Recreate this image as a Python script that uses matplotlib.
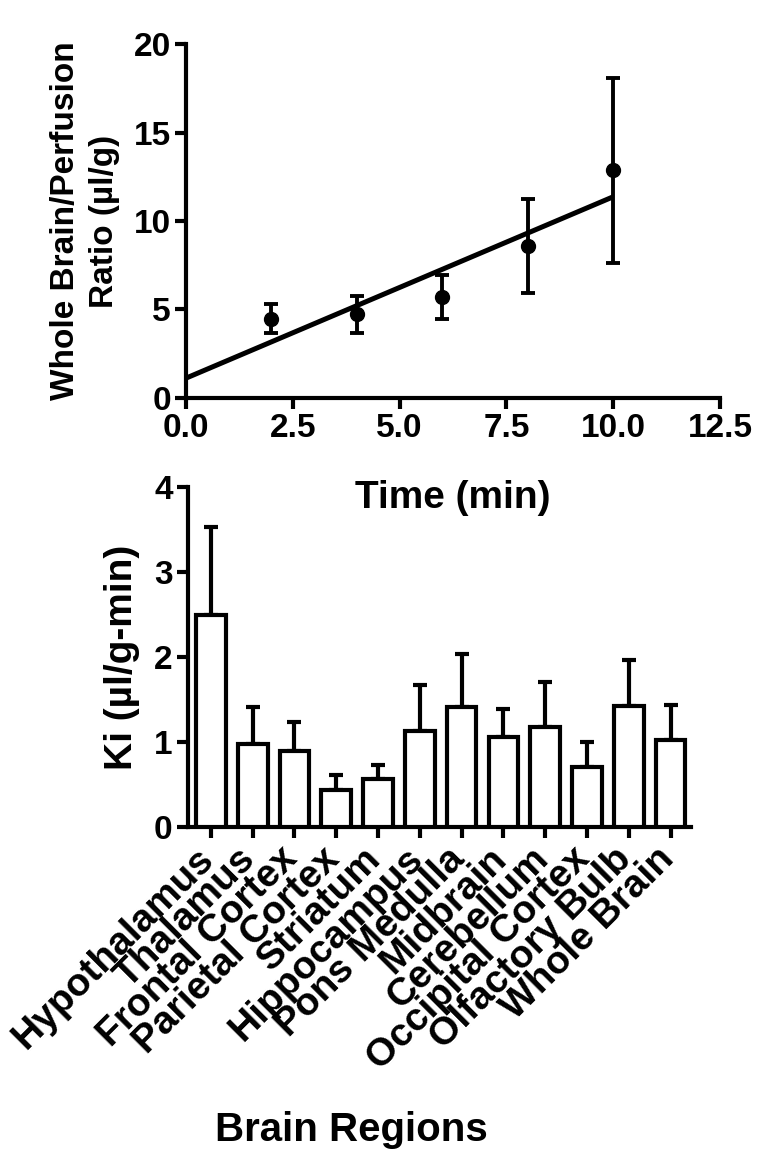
import numpy as np
import matplotlib
matplotlib.use("Agg")
import matplotlib.pyplot as plt
from matplotlib import rcParams as rcp
from matplotlib.transforms import ScaledTranslation, blended_transform_factory

rcp['font.family'] = ['Liberation Sans', 'DejaVu Sans']
rcp['font.weight'] = 'bold'
rcp['axes.linewidth'] = 3

# top panel: uptake over time
time_min = [2, 4, 6, 8, 10]
ratio_mean = [4.48, 4.74, 5.72, 8.59, 12.86]
ratio_err_lo = [0.81, 1.07, 1.24, 2.64, 5.22]
ratio_err_hi = [0.82, 1.04, 1.23, 2.65, 5.22]
fit_x = [0, 10]
fit_y = [1.11, 11.37]

# bottom panel: Ki per region
regions = ["Hypothalamus", "Thalamus", "Frontal Cortex", "Parietal Cortex",
           "Striatum", "Hippocampus", "Pons Medulla", "Midbrain", "Cerebellum",
           "Occipital Cortex", "Olfactory Bulb", "Whole Brain"]
ki_mean = [2.50, 0.98, 0.89, 0.43, 0.56, 1.13, 1.41, 1.06, 1.18, 0.71, 1.42, 1.02]
ki_err = [1.03, 0.43, 0.35, 0.18, 0.17, 0.54, 0.63, 0.33, 0.53, 0.29, 0.55, 0.42]

fig = plt.figure(figsize=(7.64, 11.63), dpi=100)

ax1 = fig.add_axes([0.2435, 0.658, 0.699, 0.304])
ax1.plot(fit_x, fit_y, 'k-', lw=3.6, solid_capstyle='butt')
ax1.errorbar(time_min, ratio_mean, yerr=[ratio_err_lo, ratio_err_hi], fmt='o',
             color='k', ms=10, elinewidth=2.8, capsize=5, capthick=2.8)
ax1.set_xlim(0, 12.5)
ax1.set_ylim(0, 20)
ax1.set_xticks(np.arange(0, 12.6, 2.5))
ax1.set_xticklabels(["%.1f" % v for v in np.arange(0, 12.6, 2.5)])
ax1.set_yticks([0, 5, 10, 15, 20])
ax1.spines[['top', 'right']].set_visible(False)
ax1.tick_params(direction='out', length=8, width=3, labelsize=24, pad=3)
ax1.set_xlabel("Time (min)", fontsize=28, fontweight='bold', labelpad=26)
ax1.set_ylabel("Whole Brain/Perfusion\nRatio (\u00b5l/g)", fontsize=24,
               fontweight='bold', labelpad=10, linespacing=1.3)
for a in ax1.get_children():
    try:
        a.set_clip_on(False)
    except Exception:
        pass

ax2 = fig.add_axes([0.246, 0.289, 0.659, 0.292])
ax2.set_facecolor('none')
xpos = np.arange(len(regions))
ax2.bar(xpos, ki_mean, width=0.71, color='white', edgecolor='k', linewidth=3,
        zorder=3)
ax2.errorbar(xpos, ki_mean, yerr=[np.zeros(len(ki_err)), ki_err], fmt='none',
             ecolor='k', elinewidth=3, capsize=5, capthick=3, zorder=2)
ax2.set_xlim(-0.55, 11.5)
ax2.set_ylim(0, 4)
ax2.set_yticks([0, 1, 2, 3, 4])
ax2.set_xticks(xpos)
ax2.set_xticklabels([])
# rotated region names, nudged so their right end sits at the tick
lbl_trans = blended_transform_factory(ax2.transData, ax2.transAxes) + \
    ScaledTranslation(-11 / 72, -10 / 72, fig.dpi_scale_trans)
for xp, name in zip(xpos, regions):
    ax2.text(xp, 0, name, transform=lbl_trans, rotation=45, ha='right',
             va='top', rotation_mode='anchor', fontsize=28, fontweight='bold')
ax2.spines[['top', 'right']].set_visible(False)
ax2.tick_params(direction='out', length=8, width=3, labelsize=24, pad=3)
ax2.set_ylabel("Ki (\u00b5l/g-min)", fontsize=28, fontweight='bold', labelpad=10)

fig.text(351 / 764, 1 - 1130 / 1163, "Brain Regions", fontsize=29,
         fontweight='bold', ha='center', va='center')

fig.savefig("out.png", dpi=100)
